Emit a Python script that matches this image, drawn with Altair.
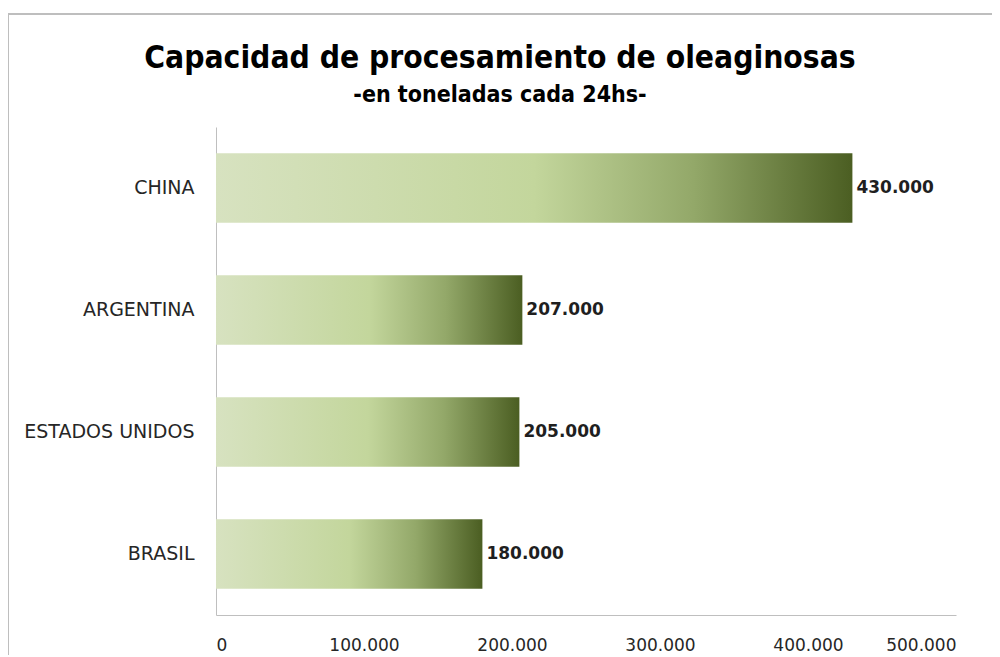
import altair as alt
import pandas as pd

countries = ["CHINA", "ARGENTINA", "ESTADOS UNIDOS", "BRASIL"]
values = [430000, 207000, 205000, 180000]
x_ticks = [0, 100000, 200000, 300000, 400000, 500000]

df = pd.DataFrame({"pais": countries, "valor": values})

grad = alt.Gradient(
    gradient="linear",
    stops=[
        alt.GradientStop(color="#d7e2c0", offset=0),
        alt.GradientStop(color="#c3d69c", offset=0.5),
        alt.GradientStop(color="#93a869", offset=0.75),
        alt.GradientStop(color="#4b5e22", offset=1),
    ],
    x1=0, x2=1, y1=0, y2=0,
)

y_enc = alt.Y(
    "pais:N", sort=countries, title=None,
    scale=alt.Scale(paddingInner=0.43, paddingOuter=0.215),
    axis=alt.Axis(domainColor="#bfbfbf", ticks=False, labelPadding=22,
                  labelFont="DejaVu Sans", labelFontSize=19, labelColor="#262626"),
)
x_enc = alt.X(
    "valor:Q", title=None,
    scale=alt.Scale(domain=[0, 500000], nice=False),
    axis=alt.Axis(values=x_ticks, grid=False, ticks=False, domainColor="#bfbfbf",
                  labelPadding=22, labelFont="DejaVu Sans", labelFontSize=17,
                  labelColor="#262626",
                  labelExpr="replace(format(datum.value, ','), ',', '.')"),
)

bars = alt.Chart(df).mark_bar(color=grad).encode(x=x_enc, y=y_enc)

labels = alt.Chart(df).transform_calculate(
    lab="replace(format(datum.valor, ','), ',', '.')"
).mark_text(align="left", dx=4, font="DejaVu Sans", fontSize=17,
            fontWeight="bold", color="#1f1f1f").encode(
    x="valor:Q", y=alt.Y("pais:N", sort=countries), text="lab:N"
)

frame = alt.Chart(df).mark_rect(fill=None, stroke="#bfbfbf", strokeWidth=1.5).encode(
    x=alt.value(-208), x2=alt.value(900), y=alt.value(-113), y2=alt.value(700)
)

title_font = "DejaVu Sans Condensed, Roboto, sans-serif"

chart = alt.layer(frame, bars, labels).properties(
    width=740, height=488,
    title=alt.TitleParams(
        text="Capacidad de procesamiento de oleaginosas",
        subtitle="-en toneladas cada 24hs-",
        font=title_font, fontSize=31.5, fontWeight="bold", color="#000000",
        subtitleFont=title_font, subtitleFontSize=23,
        subtitleFontWeight="bold", subtitleColor="#000000",
        subtitlePadding=10,
        anchor="middle", frame="group", dx=-86, offset=-94,
    ),
    autosize=alt.AutoSizeParams(type="none"),
    padding={"left": 208, "top": 119, "right": 36, "bottom": 40},
).configure_view(stroke=None)

chart.save("out.html", embed_options={"renderer": "svg", "actions": False})
